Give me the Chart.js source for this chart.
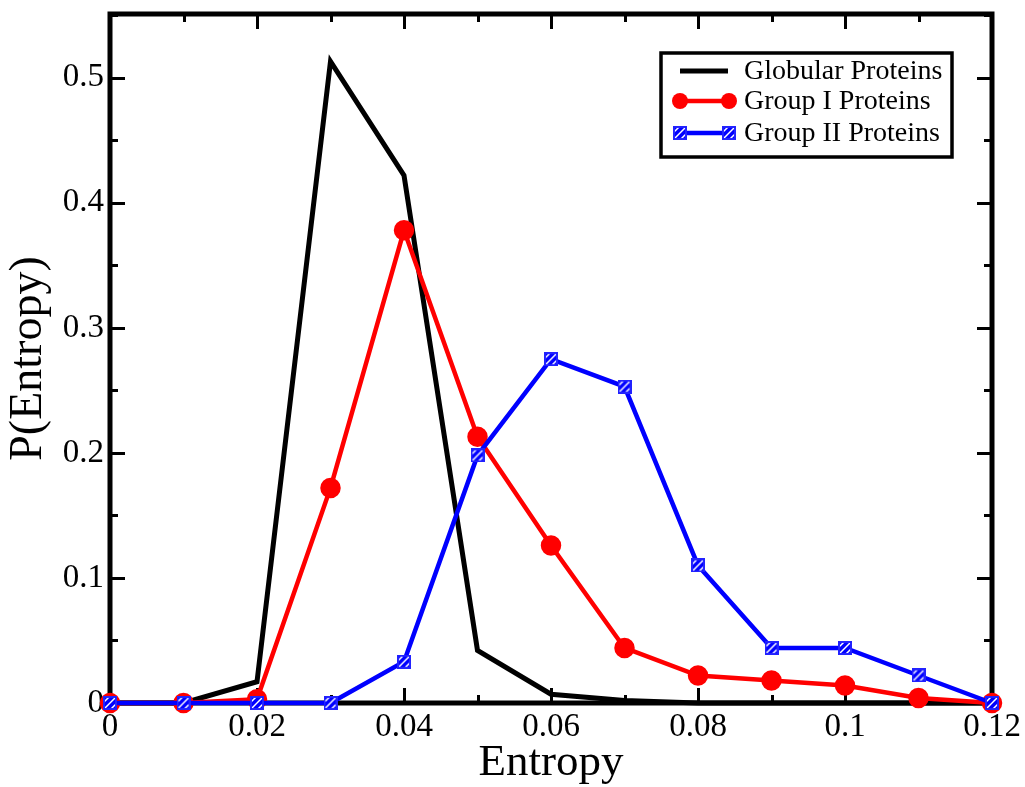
<!DOCTYPE html>
<html><head><meta charset="utf-8">
<script src="https://cdn.jsdelivr.net/npm/chart.js@4/dist/chart.umd.min.js"></script>
<style>html,body{margin:0;padding:0;background:#fff;}#wrap{width:1025px;height:787px;}</style>
</head><body><div id="wrap"><canvas id="c" width="1025" height="787"></canvas></div>
<script>
const entropy  = [0, 0.01, 0.02, 0.03, 0.04, 0.05, 0.06, 0.07, 0.08, 0.09, 0.10, 0.11, 0.12];
const globular = [0, 0, 0.017, 0.513, 0.422, 0.042, 0.007, 0.002, 0, 0, 0, 0, 0];
const groupI   = [0, 0, 0.003, 0.172, 0.378, 0.213, 0.126, 0.044, 0.022, 0.018, 0.014, 0.004, 0];
const groupII  = [0, 0, 0, 0, 0.033, 0.198, 0.275, 0.253, 0.110, 0.044, 0.044, 0.022, 0];
const xTickLabels = ['0', '0.02', '0.04', '0.06', '0.08', '0.1', '0.12'];
const yTickLabels = ['0', '0.1', '0.2', '0.3', '0.4', '0.5'];
const seriesNames = ['Globular Proteins', 'Group I Proteins', 'Group II Proteins'];

const FONT = "'Liberation Serif', 'Times New Roman', serif";

function hatchSquare() {
  const s = 14, c = document.createElement('canvas');
  c.width = s; c.height = s;
  const g = c.getContext('2d');
  g.fillStyle = '#0000ff'; g.fillRect(0, 0, s, s);
  g.save(); g.beginPath(); g.rect(1.5, 1.5, s - 3, s - 3); g.clip();
  g.fillStyle = '#fff'; g.fillRect(1.5, 1.5, s - 3, s - 3);
  g.strokeStyle = '#0000ff'; g.lineWidth = 3.4;
  for (let k = -2 * s; k < 2 * s; k += 7) {
    g.beginPath(); g.moveTo(k - 3.5, s); g.lineTo(k + s - 3.5, 0); g.stroke();
  }
  g.restore();
  g.strokeStyle = '#2222ff'; g.lineWidth = 1.5; g.strokeRect(0.75, 0.75, s - 1.5, s - 1.5);
  return c;
}
const hatch = hatchSquare();

const toPts = ys => entropy.map((x, i) => ({x, y: ys[i]}));

const framePlugin = {
  id: 'frame',
  beforeDatasetsDraw(chart) {
    const {ctx, chartArea: a, scales: {x, y}} = chart;
    ctx.save();
    ctx.strokeStyle = '#000'; ctx.lineWidth = 3; ctx.lineCap = 'butt';
    const xv = xTickLabels.map(Number), yv = yTickLabels.map(Number);
    const xm = [], ym = [];
    for (let i = 0; i < xv.length - 1; i++) xm.push((xv[i] + xv[i + 1]) / 2);
    for (let i = 0; i < yv.length - 1; i++) ym.push((yv[i] + yv[i + 1]) / 2);
    ym.push(yv[yv.length - 1] + (yv[1] - yv[0]) / 2);
    const tick = (vals, len, horiz) => {
      vals.forEach(v => {
        ctx.beginPath();
        if (horiz) {
          const px = Math.round(x.getPixelForValue(v)) + 0.5;
          ctx.moveTo(px, a.bottom); ctx.lineTo(px, a.bottom - len);
          ctx.moveTo(px, a.top); ctx.lineTo(px, a.top + len);
        } else {
          const py = Math.round(y.getPixelForValue(v)) + 0.5;
          if (py < a.top) return;
          ctx.moveTo(a.left, py); ctx.lineTo(a.left + len, py);
          ctx.moveTo(a.right, py); ctx.lineTo(a.right - len, py);
        }
        ctx.stroke();
      });
    };
    tick(xv, 15, true); tick(xm, 8, true);
    tick(yv, 15, false); tick(ym, 8, false);
    ctx.lineWidth = 5;
    ctx.strokeRect(a.left, a.top, a.right - a.left, a.bottom - a.top);
    ctx.restore();
  },
  afterDraw(chart) {
    const {ctx} = chart;
    ctx.save();
    ctx.strokeStyle = '#000'; ctx.lineWidth = 3.5;
    ctx.fillStyle = '#fff';
    ctx.fillRect(661, 53, 291, 104);
    ctx.strokeRect(661, 53, 291, 104);
    const rows = [71, 101, 133];
    chart.data.datasets.forEach((ds, i) => {
      const yy = rows[i];
      ctx.strokeStyle = ds.borderColor; ctx.lineWidth = ds.borderWidth;
      ctx.beginPath(); ctx.moveTo(680, yy); ctx.lineTo(728, yy); ctx.stroke();
      if (ds.pointStyle === 'circle' && ds.pointRadius > 0) {
        ctx.fillStyle = ds.pointBackgroundColor;
        [680, 729].forEach(px => { ctx.beginPath(); ctx.arc(px, yy, 8, 0, Math.PI * 2); ctx.fill(); });
      } else if (ds.pointStyle instanceof HTMLCanvasElement) {
        [680, 729].forEach(px => ctx.drawImage(ds.pointStyle, px - 7, yy - 7));
      }
      ctx.fillStyle = '#000';
      ctx.font = '28px ' + FONT;
      ctx.textBaseline = 'middle';
      ctx.fillText(ds.label, 744, yy + 1);
    });
    ctx.restore();
  }
};

new Chart(document.getElementById('c'), {
  type: 'line',
  data: {
    datasets: [
      {label: seriesNames[0], data: toPts(globular), order: 2, borderColor: '#000', borderWidth: 5, pointRadius: 0, pointStyle: false, clip: false, tension: 0},
      {label: seriesNames[1], data: toPts(groupI), order: 1, borderColor: '#ff0000', backgroundColor: '#ff0000', pointBackgroundColor: '#ff0000', pointBorderColor: '#ff0000', borderWidth: 4.5, pointRadius: 8, pointStyle: 'circle', clip: false, tension: 0},
      {label: seriesNames[2], data: toPts(groupII), order: 0, borderColor: '#0000ff', borderWidth: 4.5, pointRadius: 7, pointStyle: hatch, clip: false, tension: 0}
    ]
  },
  options: {
    responsive: false, animation: false, devicePixelRatio: 1,
    layout: {padding: {top: 14, right: 33, left: 0, bottom: 0}},
    plugins: {legend: {display: false}, tooltip: {enabled: false}},
    scales: {
      x: {
        type: 'linear', min: 0, max: 0.12,
        afterBuildTicks: s => { s.ticks = xTickLabels.map(v => ({value: Number(v)})); },
        afterFit: s => { s.height = 84; s.paddingLeft = 0; s.paddingRight = 0; },
        grid: {display: false, drawTicks: false},
        border: {display: false},
        ticks: {padding: 5, color: '#000', font: {family: FONT, size: 33}, maxRotation: 0, autoSkip: false,
                callback: (v, i) => xTickLabels[i]},
        title: {display: true, text: 'Entropy', color: '#000', font: {family: FONT, size: 45, lineHeight: 1}, padding: {top: 0, bottom: 1}}
      },
      y: {
        type: 'linear', min: 0, max: 0.551,
        afterBuildTicks: s => { s.ticks = yTickLabels.map(v => ({value: Number(v)})); },
        afterFit: s => { s.width = 110; s.paddingTop = 0; s.paddingBottom = 0; },
        grid: {display: false, drawTicks: false},
        border: {display: false},
        ticks: {padding: 6, color: '#000', font: {family: FONT, size: 33}, autoSkip: false,
                callback: (v, i) => yTickLabels[i]},
        title: {display: true, text: 'P(Entropy)', color: '#000', font: {family: FONT, size: 46, lineHeight: 1}, padding: {top: 6, bottom: 0}}
      }
    }
  },
  plugins: [framePlugin]
});
</script></body></html>
